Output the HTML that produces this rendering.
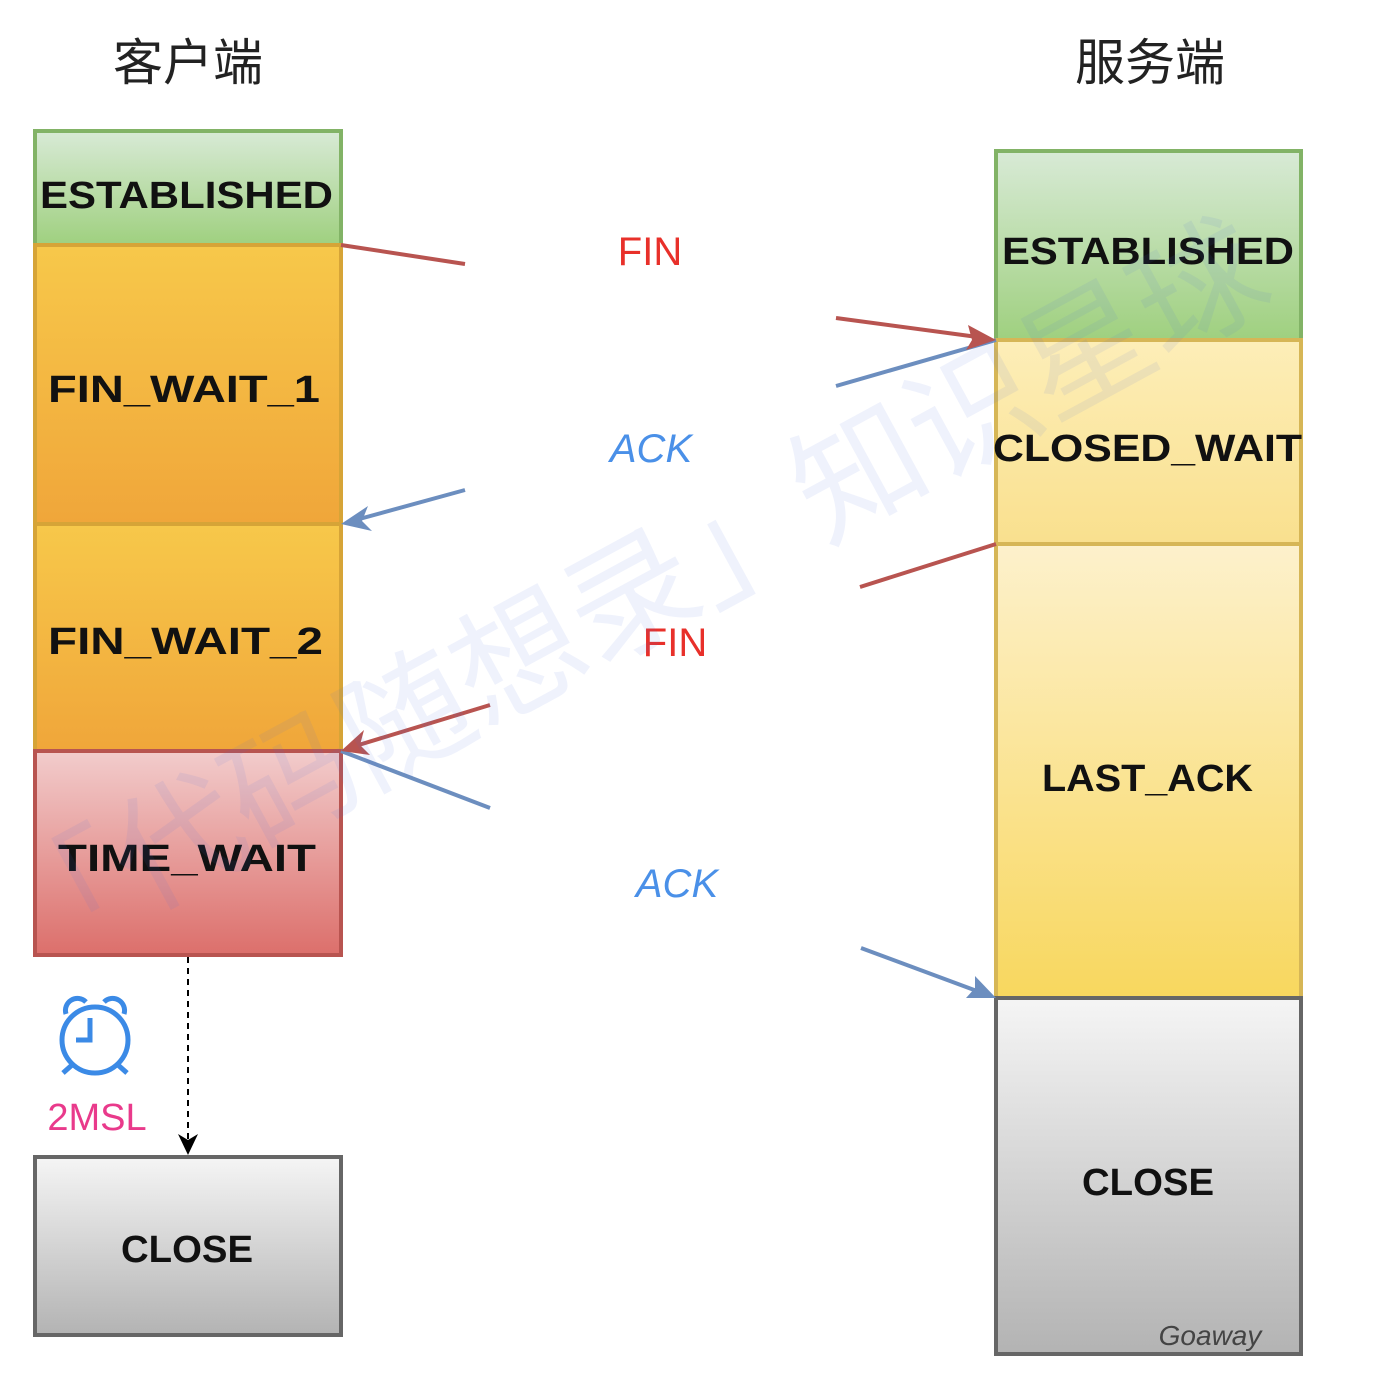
<!DOCTYPE html>
<html><head><meta charset="utf-8"><style>
html,body{margin:0;padding:0;background:#fff;}
svg{display:block;}
</style></head><body>
<svg width="1374" height="1390" viewBox="0 0 1374 1390" xmlns="http://www.w3.org/2000/svg" font-family="'Liberation Sans','Noto Sans CJK SC',sans-serif">
<defs>
<linearGradient id="g" x1="0" y1="0" x2="0" y2="1"><stop offset="0" stop-color="#d8ead6"/><stop offset="1" stop-color="#9fd07f"/></linearGradient>
<linearGradient id="o" x1="0" y1="0" x2="0" y2="1"><stop offset="0" stop-color="#f7c84a"/><stop offset="1" stop-color="#f0a63a"/></linearGradient>
<linearGradient id="r" x1="0" y1="0" x2="0" y2="1"><stop offset="0" stop-color="#f2cccc"/><stop offset="1" stop-color="#dc6f6b"/></linearGradient>
<linearGradient id="gr" x1="0" y1="0" x2="0" y2="1"><stop offset="0" stop-color="#f5f5f5"/><stop offset="1" stop-color="#b3b3b3"/></linearGradient>
<linearGradient id="y1" x1="0" y1="0" x2="0" y2="1"><stop offset="0" stop-color="#fdeeb8"/><stop offset="1" stop-color="#f9e08e"/></linearGradient>
<linearGradient id="y2" x1="0" y1="0" x2="0" y2="1"><stop offset="0" stop-color="#fdf1cc"/><stop offset="1" stop-color="#f8d75e"/></linearGradient>
</defs>
<text x="188" y="80" font-size="50" text-anchor="middle" fill="#222">客户端</text>
<text x="1150" y="80" font-size="50" text-anchor="middle" fill="#222">服务端</text>

<g stroke-width="4">
<rect x="35" y="131" width="306" height="114" fill="url(#g)" stroke="#82b366"/>
<rect x="35" y="245" width="306" height="279" fill="url(#o)" stroke="#d6a437"/>
<rect x="35" y="524" width="306" height="227" fill="url(#o)" stroke="#d6a437"/>
<rect x="35" y="751" width="306" height="204" fill="url(#r)" stroke="#b85450"/>
<rect x="35" y="1157" width="306" height="178" fill="url(#gr)" stroke="#666"/>
<rect x="996" y="151" width="305" height="189" fill="url(#g)" stroke="#82b366"/>
<rect x="996" y="340" width="305" height="204" fill="url(#y1)" stroke="#d6b656"/>
<rect x="996" y="544" width="305" height="454" fill="url(#y2)" stroke="#d6b656"/>
<rect x="996" y="998" width="305" height="356" fill="url(#gr)" stroke="#666"/>
</g>

<g font-size="38" font-weight="bold" fill="#111" lengthAdjust="spacingAndGlyphs">
<text x="40" y="208" textLength="293" lengthAdjust="spacingAndGlyphs">ESTABLISHED</text>
<text x="48" y="402" textLength="272" lengthAdjust="spacingAndGlyphs">FIN_WAIT_1</text>
<text x="48" y="654" textLength="275" lengthAdjust="spacingAndGlyphs">FIN_WAIT_2</text>
<text x="58" y="871" textLength="258" lengthAdjust="spacingAndGlyphs">TIME_WAIT</text>
<text x="121" y="1262" textLength="132" lengthAdjust="spacingAndGlyphs">CLOSE</text>
<text x="1002" y="264" textLength="292" lengthAdjust="spacingAndGlyphs">ESTABLISHED</text>
<text x="993" y="461" textLength="309" lengthAdjust="spacingAndGlyphs">CLOSED_WAIT</text>
<text x="1042" y="791" textLength="211" lengthAdjust="spacingAndGlyphs">LAST_ACK</text>
<text x="1082" y="1195" textLength="132" lengthAdjust="spacingAndGlyphs">CLOSE</text>
</g>
<text x="1210" y="1345" font-size="28" font-style="italic" fill="#444" text-anchor="middle">Goaway</text>

<g font-size="40" text-anchor="middle">
<text x="650" y="265" fill="#e8302a">FIN</text>
<text x="651" y="462" fill="#4a90e8" font-style="italic">ACK</text>
<text x="675" y="656" fill="#e8302a">FIN</text>
<text x="677" y="897" fill="#4a90e8" font-style="italic">ACK</text>
</g>

<g stroke-width="4" fill="none">
<line x1="341" y1="245" x2="465" y2="264" stroke="#b85450"/>
<line x1="836" y1="318" x2="985" y2="338" stroke="#b85450"/>
<line x1="836" y1="386" x2="996" y2="340" stroke="#6c8ebf"/>
<line x1="465" y1="490" x2="352" y2="521" stroke="#6c8ebf"/>
<line x1="996" y1="544" x2="860" y2="587" stroke="#b85450"/>
<line x1="490" y1="705" x2="352" y2="747" stroke="#b85450"/>
<line x1="341" y1="751" x2="490" y2="808" stroke="#6c8ebf"/>
<line x1="861" y1="948" x2="985" y2="994" stroke="#6c8ebf"/>
</g>
<polygon points="996,340 968,325 972,340 966,350" fill="#b85450"/>
<polygon points="341,524 368,506 362,521 372,531" fill="#6c8ebf"/>
<polygon points="341,751 364,730 360,745 370,755" fill="#b85450"/>
<polygon points="996,998 966,998 975,988 975,976" fill="#6c8ebf"/>

<line x1="188" y1="957" x2="188" y2="1140" stroke="#000" stroke-width="2" stroke-dasharray="6,5"/>
<polygon points="188,1155 178,1134 188,1140 198,1134" fill="#000"/>

<g stroke="#3b8ae6" stroke-width="5" fill="none">
<circle cx="95" cy="1040" r="33"/>
<polyline points="90,1018 90,1040 76,1040"/>
<line x1="72" y1="1065" x2="63" y2="1073"/>
<line x1="118" y1="1065" x2="127" y2="1073"/>
<path d="M66,1014 a12,12 0 0 1 20,-12"/>
<path d="M104,1002 a12,12 0 0 1 20,12"/>
</g>
<text x="97" y="1130" font-size="38" fill="#e93a8b" text-anchor="middle">2MSL</text>

<g transform="translate(30,975) rotate(-28.5)">
<text x="0" y="0" font-size="130" fill="#4a6ee0" fill-opacity="0.09" textLength="1420" lengthAdjust="spacingAndGlyphs">「代码随想录」知识星球</text>
</g>
</svg>
</body></html>
